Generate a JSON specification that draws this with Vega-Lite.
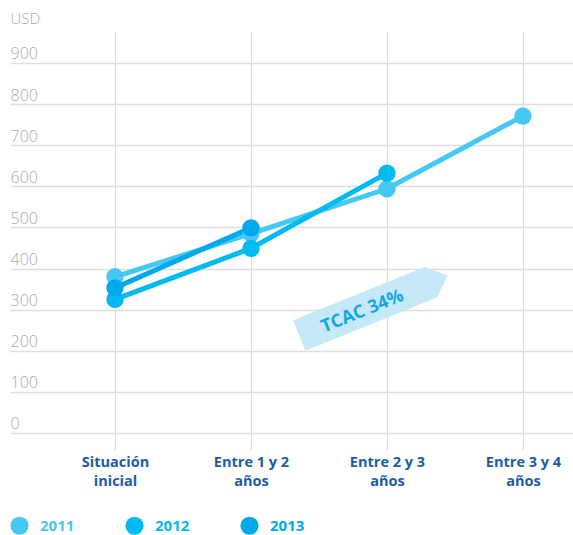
{
  "$schema": "https://vega.github.io/schema/vega-lite/v6.json",
  "width": 563,
  "height": 418,
  "autosize": {"type": "none"},
  "padding": {"left": 10, "top": 32, "right": 0, "bottom": 85},
  "background": "white",
  "config": {
    "view": {"stroke": null},
    "font": "Open Sans"
  },
  "datasets": {
    "series": [
      {"stage": 0, "stageName": "Situación inicial", "year": "2011", "value": 380},
      {"stage": 1, "stageName": "Entre 1 y 2 años", "year": "2011", "value": 485},
      {"stage": 2, "stageName": "Entre 2 y 3 años", "year": "2011", "value": 594},
      {"stage": 3, "stageName": "Entre 3 y 4 años", "year": "2011", "value": 771},
      {"stage": 0, "stageName": "Situación inicial", "year": "2012", "value": 325},
      {"stage": 1, "stageName": "Entre 1 y 2 años", "year": "2012", "value": 449},
      {"stage": 2, "stageName": "Entre 2 y 3 años", "year": "2012", "value": 632},
      {"stage": 0, "stageName": "Situación inicial", "year": "2013", "value": 353},
      {"stage": 1, "stageName": "Entre 1 y 2 años", "year": "2013", "value": 499}
    ],
    "note": [
      {"label": "TCAC 34%", "stage": 1.9, "value": 310, "textStage": 1.82, "textValue": 295}
    ]
  },
  "layer": [
    {
      "data": {"name": "note"},
      "mark": {
        "type": "point",
        "shape": "M-1,-0.206L0.775,-0.206L1,0L0.775,0.206L-1,0.206Z",
        "filled": true,
        "fill": "#c6e9f9",
        "opacity": 1,
        "strokeWidth": 0,
        "size": 25600,
        "angle": 338
      },
      "encoding": {
        "x": {"field": "stage", "type": "quantitative"},
        "y": {"field": "value", "type": "quantitative"}
      }
    },
    {
      "data": {"name": "note"},
      "mark": {
        "type": "text",
        "angle": 338,
        "fontSize": 18,
        "fontWeight": "bold",
        "color": "#13a8e2",
        "align": "center",
        "baseline": "middle"
      },
      "encoding": {
        "x": {"field": "textStage", "type": "quantitative"},
        "y": {"field": "textValue", "type": "quantitative"},
        "text": {"field": "label"}
      }
    },
    {
      "data": {"name": "series"},
      "mark": {"type": "line", "strokeWidth": 5},
      "encoding": {
        "x": {
          "field": "stage",
          "type": "quantitative",
          "scale": {"domain": [-0.772, 3.368], "nice": false, "zero": false},
          "axis": {
            "title": null,
            "values": [0, 1, 2, 3],
            "grid": true,
            "gridColor": "#dcdcdc",
            "gridWidth": 1.2,
            "ticks": false,
            "tickSize": 0,
            "domain": false,
            "labelPadding": 5,
            "labelFont": "Open Sans",
            "labelFontSize": 14.5,
            "labelFontWeight": "bold",
            "labelColor": "#1b5ca6",
            "labelLineHeight": 19,
            "labelBaseline": "top",
            "labelExpr": "[['Situación','inicial'],['Entre 1 y 2','años'],['Entre 2 y 3','años'],['Entre 3 y 4','años']][datum.value]"
          }
        },
        "y": {
          "field": "value",
          "type": "quantitative",
          "scale": {"domain": [-41.4, 975.4], "nice": false, "zero": false},
          "axis": {
            "title": "USD",
            "titleAngle": 0,
            "titleAlign": "left",
            "titleBaseline": "alphabetic",
            "titleX": 0,
            "titleY": -9,
            "titleFont": "Open Sans",
            "titleFontSize": 15,
            "titleFontWeight": 300,
            "titleColor": "#aaaaaa",
            "values": [0, 100, 200, 300, 400, 500, 600, 700, 800, 900],
            "grid": true,
            "gridColor": "#dedede",
            "gridWidth": 1.5,
            "ticks": false,
            "tickSize": 0,
            "domain": false,
            "labelAlign": "left",
            "labelBaseline": "alphabetic",
            "labelPadding": 0,
            "labelOffset": -4,
            "labelFont": "Open Sans",
            "labelFontSize": 16,
            "labelFontWeight": 300,
            "labelColor": "#aaaaaa"
          }
        },
        "color": {
          "field": "year",
          "type": "nominal",
          "scale": {"domain": ["2011", "2012", "2013"], "range": ["#45c8f3", "#00baf1", "#00aaea"]}
        },
        "detail": {"field": "year"}
      }
    },
    {
      "data": {"name": "series"},
      "mark": {"type": "point", "filled": true, "opacity": 1, "size": 300, "strokeWidth": 0},
      "encoding": {
        "x": {"field": "stage", "type": "quantitative"},
        "y": {"field": "value", "type": "quantitative"},
        "color": {
          "field": "year",
          "type": "nominal",
          "legend": {
            "title": null,
            "orient": "none",
            "direction": "horizontal",
            "legendX": 0,
            "legendY": 484,
            "padding": 0,
            "symbolType": "circle",
            "symbolSize": 330,
            "symbolStrokeWidth": 0,
            "symbolOpacity": 1,
            "labelOffset": 11,
            "labelFont": "Open Sans",
            "labelFontSize": 15,
            "labelFontWeight": "bold",
            "columnPadding": 50,
            "encode": {
              "symbols": {"update": {"fill": {"scale": "color", "field": "value"}, "strokeWidth": {"value": 0}}},
              "labels": {"update": {"fill": {"scale": "color", "field": "value"}}}
            }
          }
        }
      }
    }
  ]
}
